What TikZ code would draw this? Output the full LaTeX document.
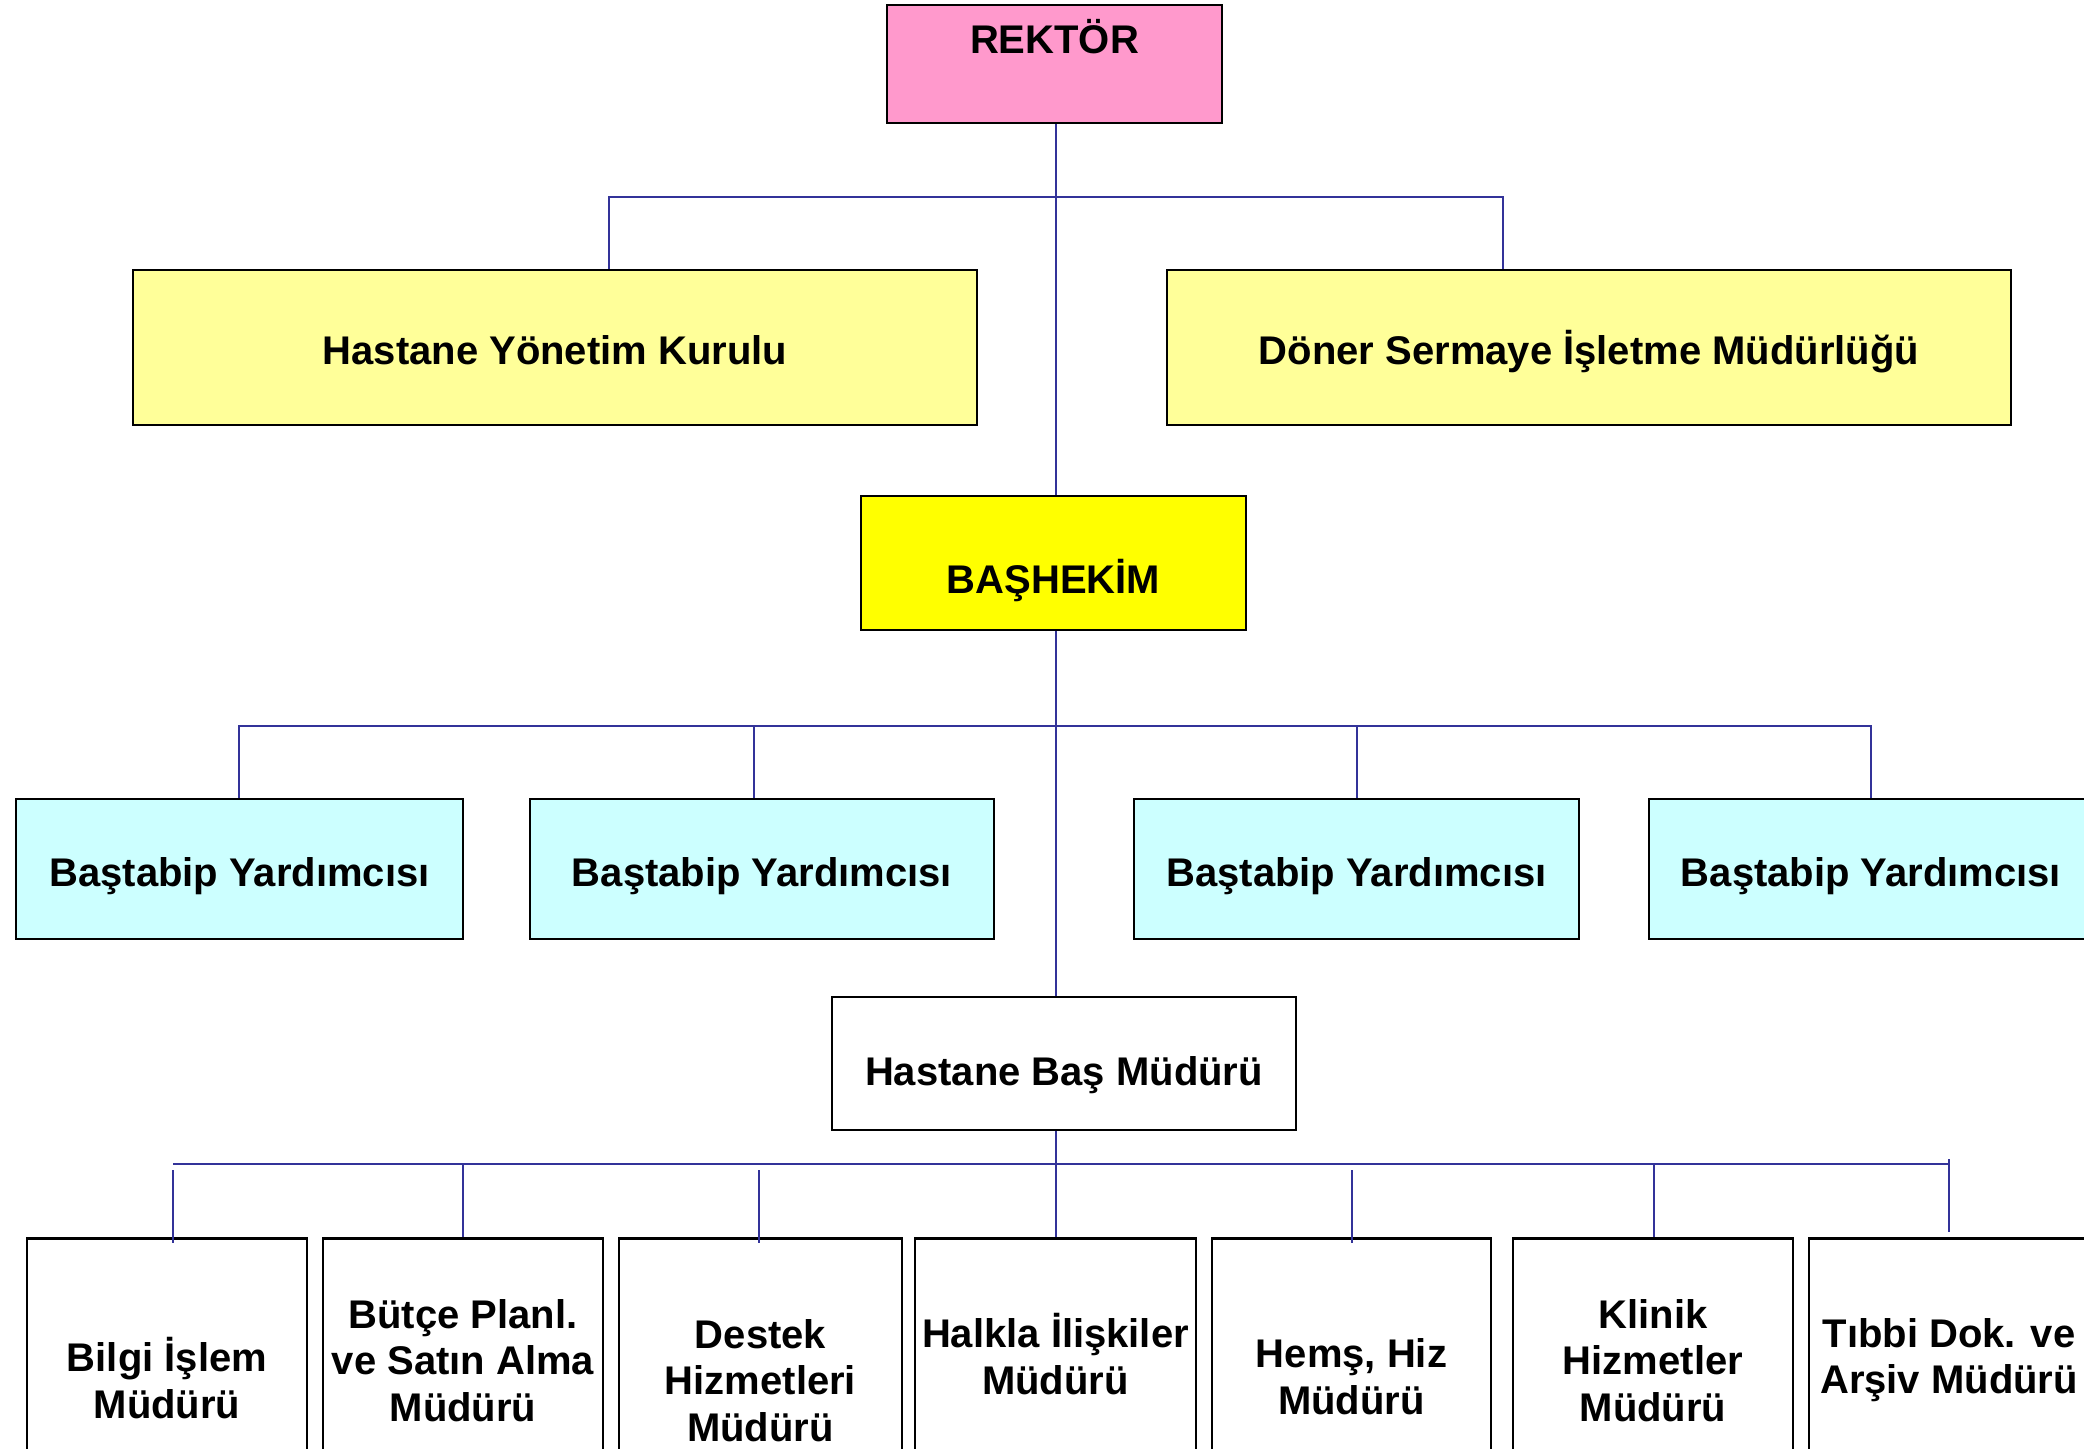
\documentclass[tikz,border=0pt]{standalone}
\usepackage{fontspec}
\setmainfont{Liberation Sans}
\usetikzlibrary{calc}
\definecolor{pinkc}{RGB}{255,153,204}
\definecolor{lightyel}{RGB}{255,255,153}
\definecolor{yelc}{RGB}{255,255,0}
\definecolor{cyanc}{RGB}{204,255,255}
\definecolor{linec}{RGB}{51,51,153}
\begin{document}
\begin{tikzpicture}[x=0.5pt,y=-0.5pt,
  box/.style={draw=black, line width=1.3pt, inner xsep=0pt, inner ysep=0pt,
    font=\fontsize{20}{23.3}\selectfont\bfseries},
  onel/.style={text height=22pt, text depth=5pt},
  lowbox/.style={box, fill=white, anchor=north, align=center, minimum width=140pt},
  link/.style={draw=linec, line width=1.2pt}]
\useasboundingbox (0,0) rectangle (2084,1448);
\clip (0,0) rectangle (2084,1448);
\fill[white] (0,0) rectangle (2084,1448);

% boxes
\node[box, fill=pinkc, minimum width=167.5pt, minimum height=59pt, text height=15pt, text depth=26pt] (rektor) at (1054.5,64) {REKT\"OR};
\node[box, onel, fill=lightyel, minimum width=422pt, minimum height=77.5pt] (hyk) at (555,347.5) {Hastane Y\"onetim Kurulu};
\node[box, onel, fill=lightyel, minimum width=422pt, minimum height=77.5pt] (doner) at (1589,347.5) {D\"oner Sermaye İşletme M\"ud\"url\"uğ\"u};
\node[box, fill=yelc, minimum width=192.5pt, minimum height=67pt, text height=35pt, text depth=5pt] (bashekim) at (1053.5,563) {BAŞHEKİM};

\node[box, onel, fill=cyanc, minimum width=223.5pt, minimum height=70pt] (bty1) at (239.5,869) {Baştabip Yardımcısı};
\node[box, onel, fill=cyanc, minimum width=232pt, minimum height=70pt] (bty2) at (762,869) {Baştabip Yardımcısı};
\node[box, onel, fill=cyanc, minimum width=222.5pt, minimum height=70pt] (bty3) at (1356.5,869) {Baştabip Yardımcısı};
\node[box, onel, fill=cyanc, minimum width=222pt, minimum height=70pt] (bty4) at (1871,869) {Baştabip Yardımcısı};

\node[box, fill=white, minimum width=232pt, minimum height=66.5pt, text height=26.5pt, text depth=5pt] (hbm) at (1064,1063.5) {Hastane Baş M\"ud\"ur\"u};

\node[lowbox, minimum height=139.7pt] (b1) at (167,1237) {Bilgi İşlem\\M\"ud\"ur\"u};
\node[lowbox, minimum height=122pt] (b2) at (463,1237) {B\"ut\c{c}e Planl.\\ve Satın Alma\\M\"ud\"ur\"u};
\node[lowbox, minimum width=141.5pt, minimum height=142pt] (b3) at (760.5,1237) {Destek\\Hizmetleri\\M\"ud\"ur\"u};
\node[lowbox, minimum width=140.5pt, minimum height=116pt] (b4) at (1055.5,1237) {Halkla İlişkiler\\M\"ud\"ur\"u};
\node[lowbox, minimum width=139.5pt, minimum height=138.4pt] (b5) at (1351.5,1237) {Hemş, Hiz\\M\"ud\"ur\"u};
\node[lowbox, minimum height=122pt] (b6) at (1653,1237) {Klinik\\Hizmetler\\M\"ud\"ur\"u};
\node[lowbox, minimum height=122pt] (b7) at (1949,1237) {Tıbbi Dok. ve\\Arşiv M\"ud\"ur\"u};

% connector coordinates
\coordinate (trunk) at (1056,0);
\coordinate (busA) at (609,197);
\coordinate (busB) at (1503,197);
\coordinate (busC) at (239,726);
\coordinate (busD) at (1871,726);
\coordinate (dr2) at (754,726);
\coordinate (dr3) at (1357,726);
\coordinate (g1) at (173,1164);
\coordinate (g2) at (463,1164);
\coordinate (g3) at (759,1164);
\coordinate (g5) at (1352,1164);
\coordinate (g6) at (1654,1164);
\coordinate (g7) at (1949,1164);

% connectors
\draw[link] (rektor.south -| trunk) -- (bashekim.north -| trunk);
\draw[link] (busA |- hyk.north) -- (busA) -- (busB) -- (busB |- doner.north);
\draw[link] (bashekim.south -| trunk) -- (hbm.north -| trunk);
\draw[link] (busC |- bty1.north) -- (busC) -- (busD) -- (busD |- bty4.north);
\draw[link] (dr2) -- (dr2 |- bty2.north);
\draw[link] (dr3) -- (dr3 |- bty3.north);
\draw[link] (hbm.south -| trunk) -- (b4.north -| trunk);
\draw[link] (g1) -- (g7);
\draw[link] ($(g1)+(0,6)$) -- ($(g1 |- b1.north)+(0,6)$);
\draw[link] (g2) -- (g2 |- b2.north);
\draw[link] ($(g3)+(0,6)$) -- ($(g3 |- b3.north)+(0,6)$);
\draw[link] ($(g5)+(0,6)$) -- ($(g5 |- b5.north)+(0,6)$);
\draw[link] (g6) -- (g6 |- b6.north);
\draw[link] ($(g7)+(0,-5)$) -- ($(g7 |- b7.north)+(0,-5)$);
\end{tikzpicture}
\end{document}
